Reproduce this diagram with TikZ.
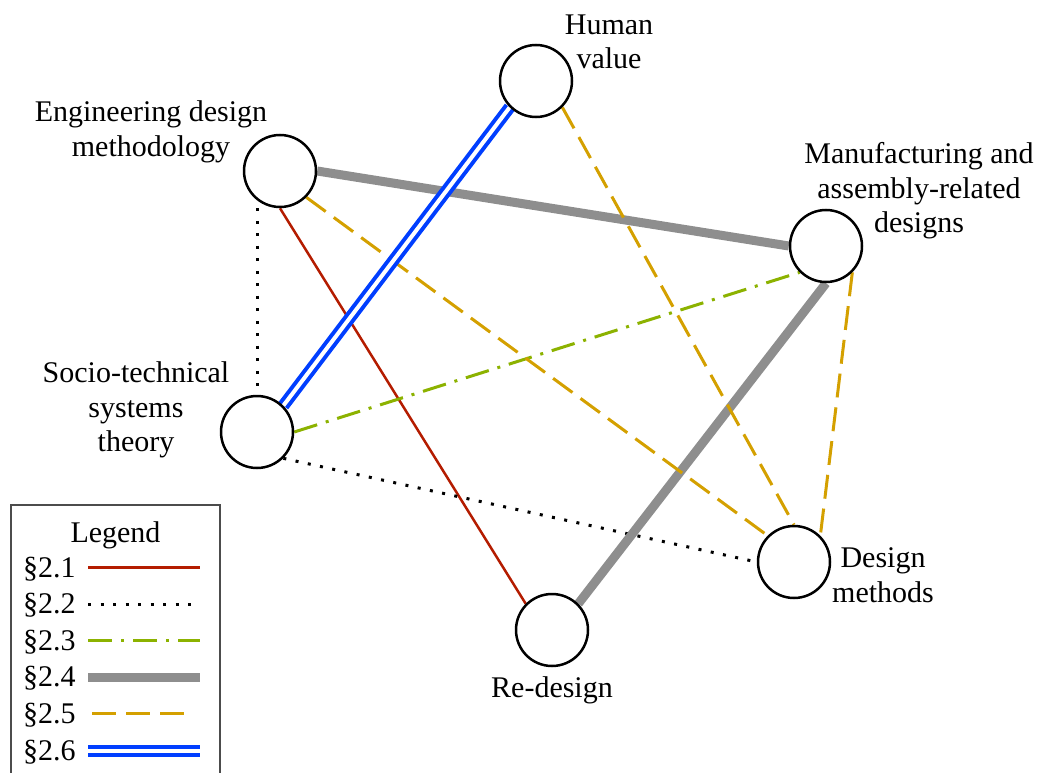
\documentclass[tikz,border=0pt]{standalone}
\usepackage{fontspec}
\setmainfont{Liberation Serif}
\usepackage{tikz}
\usetikzlibrary{positioning,backgrounds}

\definecolor{secred}{RGB}{180,28,0}
\definecolor{secgreen}{RGB}{140,178,0}
\definecolor{secgray}{RGB}{142,142,142}
\definecolor{secgold}{RGB}{212,160,0}
\definecolor{secblue}{RGB}{0,62,255}

\begin{document}
\begin{tikzpicture}[x=1pt,y=-1pt
		,every node/.append style={font=\fontsize{30}{34.5}\selectfont, inner sep=0pt}
		,topic/.style={circle, draw, line width=2.5pt, fill=white, minimum size=72pt}
		,lbl/.style={align=center}
		,sa/.style={draw=secred, line width=2.5pt}
		,sb/.style={draw=black, line width=3pt, dash pattern=on 3pt off 9.5pt}
		,sc/.style={draw=secgreen, line width=3pt, dash pattern=on 24pt off 9pt on 3pt off 9pt}
		,sd/.style={draw=secgray, line width=9pt}
		,se/.style={draw=secgold, line width=3pt, dash pattern=on 24pt off 10pt}
		,sf/.style={draw=secblue, line width=4pt, double=white, double distance=4pt}
		,legendframe/.style={draw=black!70, line width=1.2pt}
	]
		\useasboundingbox (0,0) rectangle (1044,773);

		% topics
		\node [topic] (HV) at (536,81) {};
		\node [topic] (EDM) at (280,171) {};
		\node [topic] (MA) at (826,246) {};
		\node [topic] (STS) at (257,432) {};
		\node [topic] (DM) at (794,562) {};
		\node [topic] (RD) at (552,630) {};

		\node [lbl] (HVt) at (609,42) {Human\\value};
		\node [lbl] (EDMt) at (151,132) {Engineering design\\methodology};
		\node [lbl] (MAt) at (919,191) {Manufacturing and\\assembly-related\\designs};
		\node [lbl] (STSt) at (136,410) {Socio-technical\\systems\\theory};
		\node [lbl, anchor=west] (DMt) at (832,575) {Design\\methods};
		\node [lbl] (RDt) at (552,690) {Re-design};

		% links
		\begin{scope}[on background layer]
			\draw [sa] (EDM.south) -- (RD.north west);
			\draw [sb] (EDM.south -| STS.north) -- (STS.north);
			\draw [sb] (STS.south east) -- (DM.west);
			\draw [sc] (STS.east) -- (MA.south west);
			\draw [sd] (EDM.east) -- (MA.west);
			\draw [sd] (MA.south) -- (RD.north east);
			\draw [se] (HV.south east) -- (DM.north);
			\draw [se] (EDM.south east) -- (DM.north west);
			\draw [se] (MA.south east) -- (DM.north east);
			\draw [sf] (HV.south west) -- (STS.north east);
		\end{scope}

		% legend
		\draw [legendframe] (11,505) rectangle (220,776);
		\node [anchor=base] (legend) at (115.5,542) {Legend};
		\foreach \i/\st/\xa/\xb in {1/sa/88/200,2/sb/88/200,3/sc/88/200,4/sd/88/200,5/se/92/184,6/sf/88/200} {
			\node [anchor=base west] (key\i) at (23,{577+36.6*(\i-1)}) {\S2.\i};
			\coordinate (keyA\i) at (\xa,{567.5+36.6*(\i-1)});
			\coordinate (keyB\i) at (\xb,{567.5+36.6*(\i-1)});
			\draw [\st] (keyA\i) -- (keyB\i);
		}
	\end{tikzpicture}
\end{document}
